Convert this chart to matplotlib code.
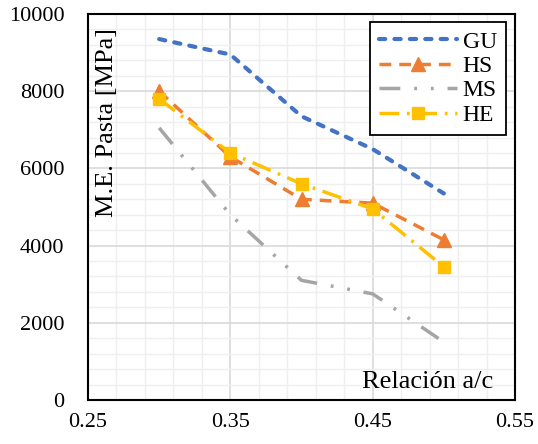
import matplotlib.pyplot as plt
from matplotlib.ticker import FixedLocator, MultipleLocator

# Datos
relacion = [0.30, 0.35, 0.40, 0.45, 0.50]
gu = [9350, 8950, 7350, 6500, 5350]
hs = [8000, 6300, 5200, 5100, 4150]
ms = [7050, 4800, 3100, 2750, 1500]
he = [7800, 6400, 5600, 4950, 3450]
xticks = [0.25, 0.35, 0.45, 0.55]

plt.rcParams['font.family'] = ['Liberation Serif', 'DejaVu Serif']

fig = plt.figure(figsize=(5.38, 4.44), dpi=100)
ax = fig.add_axes([88 / 538, 44 / 444, 427 / 538, 386 / 444])

ax.plot(relacion, gu, color='#4472C4', lw=3, dashes=(1.5, 2.2),
        dash_capstyle='round', label='GU')
ax.plot(relacion, hs, color='#ED7D31', lw=2.5, dashes=(3.4, 2.3),
        marker='^', ms=10, label='HS')
ax.plot(relacion, ms, color='#A5A5A5', lw=2.5,
        dashes=(6, 4, 0.8, 4, 0.8, 4), label='MS')
ax.plot(relacion, he, color='#FFC000', lw=2.5, dashes=(5.7, 2.2, 0.8, 2.2),
        marker='s', ms=9, label='HE')

ax.set_xlim(0.25, 0.55)
ax.set_ylim(0, 10000)
ax.xaxis.set_major_locator(FixedLocator(xticks))
ax.xaxis.set_minor_locator(MultipleLocator(0.02, offset=0.01))
ax.yaxis.set_major_locator(MultipleLocator(2000))
ax.yaxis.set_minor_locator(MultipleLocator(400))
ax.grid(which='major', color='#D9D9D9', lw=1.2)
ax.grid(which='minor', color='#EFEFEF', lw=1.0)
ax.set_axisbelow(True)
ax.tick_params(which='both', length=0, labelsize=16)
ax.tick_params(axis='x', pad=9)
ax.tick_params(axis='y', pad=17)
ax.xaxis.set_major_formatter(plt.FuncFormatter(lambda v, p: f'{v:.2f}'))
for s in ax.spines.values():
    s.set_linewidth(1.5)
    s.set_color('black')

ax.text(0.018, 0.965, 'M.E. Pasta [MPa]', transform=ax.transAxes,
        rotation=90, ha='left', va='top', fontsize=19)
ax.text(0.948, 0.03, 'Relación a/c', transform=ax.transAxes,
        ha='right', va='baseline', fontsize=19)

leg = ax.legend(loc='upper right', bbox_to_anchor=(0.98, 0.98), fontsize=17,
                fancybox=False, framealpha=1, edgecolor='black',
                handlelength=3.3, handletextpad=0.25, borderpad=0.4,
                labelspacing=0.12, borderaxespad=0)
leg.get_frame().set_linewidth(1.3)

fig.savefig('out.png', dpi=100)
